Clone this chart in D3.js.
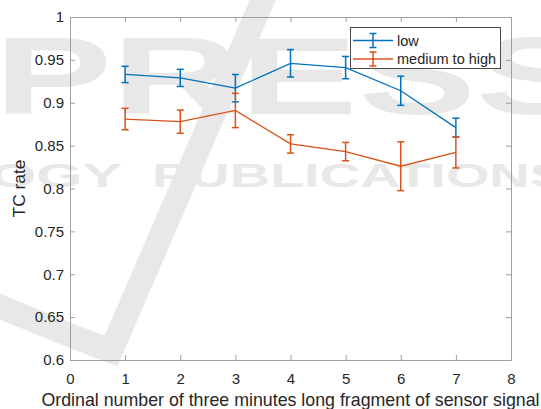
<!DOCTYPE html>
<html><head><meta charset="utf-8">
<script src="https://cdn.jsdelivr.net/npm/d3@7"></script>
<style>
html,body{margin:0;padding:0;background:#fff;}
svg{display:block;font-family:"Liberation Sans",Arial,Helvetica,sans-serif;}
</style></head><body>
<svg id="c" width="541" height="409"></svg>
<script>
const xValues = [1, 2, 3, 4, 5, 6, 7];
const lowMean = [0.933, 0.929, 0.917, 0.946, 0.941, 0.914, 0.871];
const lowErr  = [0.0095, 0.010, 0.016, 0.016, 0.013, 0.017, 0.011];
const medMean = [0.881, 0.878, 0.891, 0.852, 0.843, 0.826, 0.842];
const medErr  = [0.0125, 0.0135, 0.020, 0.0107, 0.0107, 0.0285, 0.018];
const xTicks = [0, 1, 2, 3, 4, 5, 6, 7, 8];
const yTicks = [0.6, 0.65, 0.7, 0.75, 0.8, 0.85, 0.9, 0.95, 1];
const yTickLabels = ["0.6", "0.65", "0.7", "0.75", "0.8", "0.85", "0.9", "0.95", "1"];
const seriesNames = ["low", "medium to high"];
const colors = ["#0072BD", "#D95319"];

const svg = d3.select("#c");
const L = 70, R = 511, T = 17, B = 360;
const x = d3.scaleLinear().domain([0, 8]).range([L, R]);
const y = d3.scaleLinear().domain([0.6, 1]).range([B, T]);

// watermark
const wmColor = "#e8e8e8";
const wm = svg.append("g").attr("fill", wmColor);
wm.append("path").attr("d", "M -20 298 Q 55 330 111 351 L 268 -12")
  .attr("fill", "none").attr("stroke", wmColor).attr("stroke-width", 24);
wm.append("text").attr("x", -6).attr("y", 114).attr("font-size", 110).attr("font-weight", "bold")
  .attr("textLength", 600).attr("lengthAdjust", "spacingAndGlyphs").text("PRESS");
wm.append("text").attr("x", -10).attr("y", 187).attr("font-size", 33).attr("font-weight", "bold")
  .attr("textLength", 132).attr("lengthAdjust", "spacingAndGlyphs").text("OGY");
wm.append("text").attr("x", 152).attr("y", 187).attr("font-size", 33).attr("font-weight", "bold")
  .attr("textLength", 415).attr("lengthAdjust", "spacingAndGlyphs").text("PUBLICATIONS");

const axisColor = "#a0a0a0", textColor = "#262626";

function styleAxis(g) {
  g.select(".domain").attr("stroke", axisColor);
  g.selectAll(".tick line").attr("stroke", axisColor);
  g.selectAll(".tick text").attr("fill", textColor).attr("font-size", 15)
   .attr("font-family", "Liberation Sans, Arial, sans-serif");
}

svg.append("g").attr("transform", `translate(0,${B})`)
  .call(d3.axisBottom(x).tickValues(xTicks).tickSize(-5).tickSizeOuter(0).tickPadding(13).tickFormat(d3.format("d")))
  .call(styleAxis);
svg.append("g").attr("transform", `translate(0,${T})`)
  .call(d3.axisTop(x).tickValues(xTicks).tickSize(-5).tickSizeOuter(0).tickFormat(""))
  .call(styleAxis);
svg.append("g").attr("transform", `translate(${L},0)`)
  .call(d3.axisLeft(y).tickValues(yTicks).tickSize(-5).tickSizeOuter(0).tickPadding(6)
    .tickFormat((d, i) => yTickLabels[i]))
  .call(styleAxis);
svg.append("g").attr("transform", `translate(${R},0)`)
  .call(d3.axisRight(y).tickValues(yTicks).tickSize(-5).tickSizeOuter(0).tickFormat(""))
  .call(styleAxis);

// axis labels
svg.append("text").attr("x", (L + R) / 2).attr("y", 406).attr("text-anchor", "middle")
  .attr("font-size", 17.8).attr("fill", textColor)
  .text("Ordinal number of three minutes long fragment of sensor signal");
svg.append("text").attr("transform", `translate(25,${(T + B) / 2}) rotate(-90)`)
  .attr("text-anchor", "middle").attr("font-size", 17.4).attr("fill", textColor).text("TC rate");

// series
const capW = 3.5;
function drawSeries(means, errs, color) {
  const data = xValues.map((xv, i) => ({x: xv, m: means[i], e: errs[i]}));
  const g = svg.append("g");
  g.append("path").datum(data)
    .attr("d", d3.line().x(d => x(d.x)).y(d => y(d.m)))
    .attr("fill", "none").attr("stroke", color).attr("stroke-width", 1.3);
  const eb = g.selectAll(".eb").data(data).enter().append("g");
  eb.append("line").attr("x1", d => x(d.x)).attr("x2", d => x(d.x))
    .attr("y1", d => y(d.m - d.e)).attr("y2", d => y(d.m + d.e));
  eb.append("line").attr("x1", d => x(d.x) - capW).attr("x2", d => x(d.x) + capW)
    .attr("y1", d => y(d.m + d.e)).attr("y2", d => y(d.m + d.e));
  eb.append("line").attr("x1", d => x(d.x) - capW).attr("x2", d => x(d.x) + capW)
    .attr("y1", d => y(d.m - d.e)).attr("y2", d => y(d.m - d.e));
  eb.selectAll("line").attr("stroke", color).attr("stroke-width", 1.5);
}
drawSeries(lowMean, lowErr, colors[0]);
drawSeries(medMean, medErr, colors[1]);

// legend
const lg = svg.append("g");
lg.append("rect").attr("x", 350.5).attr("y", 27.5).attr("width", 150).attr("height", 41)
  .attr("fill", "#fff").attr("stroke", "#4a4a4a").attr("stroke-width", 1);
seriesNames.forEach((name, i) => {
  const cy = 40.5 + i * 18.5;
  const c = colors[i];
  lg.append("line").attr("x1", 353).attr("x2", 393).attr("y1", cy).attr("y2", cy)
    .attr("stroke", c).attr("stroke-width", 1.5);
  lg.append("line").attr("x1", 373).attr("x2", 373).attr("y1", cy - 7).attr("y2", cy + 7)
    .attr("stroke", c).attr("stroke-width", 1.5);
  lg.append("line").attr("x1", 373 - capW).attr("x2", 373 + capW).attr("y1", cy - 7).attr("y2", cy - 7)
    .attr("stroke", c).attr("stroke-width", 1.5);
  lg.append("line").attr("x1", 373 - capW).attr("x2", 373 + capW).attr("y1", cy + 7).attr("y2", cy + 7)
    .attr("stroke", c).attr("stroke-width", 1.5);
  lg.append("text").attr("x", 397).attr("y", cy + 5).attr("font-size", 14.5)
    .attr("fill", textColor).text(name);
});
</script></body></html>
